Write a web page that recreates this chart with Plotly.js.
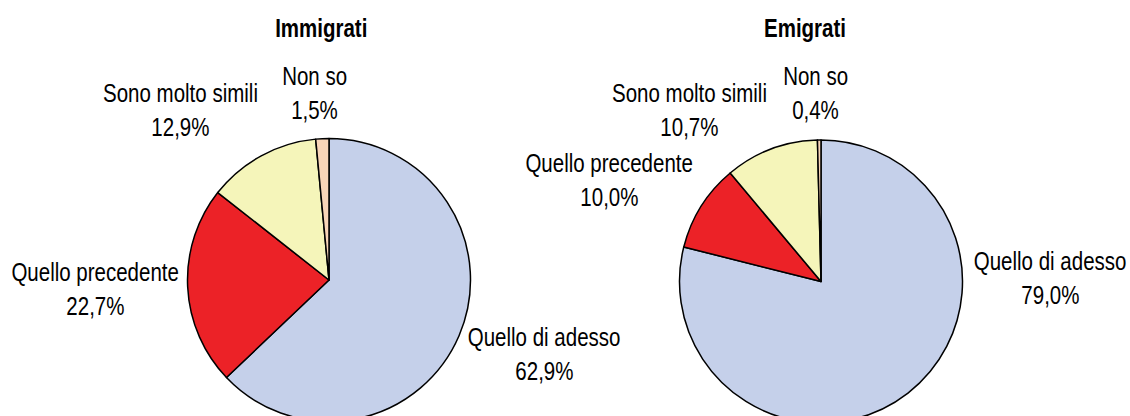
<!DOCTYPE html>
<html>
<head>
<meta charset="utf-8">
<script src="https://cdn.plot.ly/plotly-3.0.1.min.js"></script>
<style>
html,body{margin:0;padding:0;overflow:hidden;background:#fff;}
#chart{width:1130px;height:424px;}
</style>
</head>
<body>
<div id="chart"></div>
<script>
// Data
const categories = ["Quello di adesso", "Quello precedente", "Sono molto simili", "Non so"];
const immigrati = [62.9, 22.7, 12.9, 1.5];
const emigrati = [79.0, 10.0, 10.7, 0.4];
const groupTitles = ["Immigrati", "Emigrati"];
const sliceColors = ["#C5D0EA", "#EC2227", "#F5F5BA", "#F8D5B8"];

// Layout constants
const W = 1130, H = 424;
const R = 141.5;
const centers = [[329, 280], [821, 281.5]];
const titleX = [321, 805];
// label positions (pixel centres) for each category, per pie
const labelPos = [
  [[544, 337], [95, 272], [180, 93], [314, 76]],
  [[1050, 261], [609, 163], [689, 93], [815, 76]]
];
const lineGap = 34;
const FONT = "'Liberation Sans', Arial, sans-serif";
const NARROW = 0.82; // emulate a narrow font face

function fmt(v){ return v.toFixed(1).replace('.', ',') + '%'; }

const series = [immigrati, emigrati];
const traces = series.map((vals, i) => {
  const [cx, cy] = centers[i];
  return {
    type: 'pie',
    values: vals,
    labels: categories,
    sort: false,
    direction: 'clockwise',
    rotation: 0,
    textinfo: 'none',
    hoverinfo: 'label+percent',
    marker: {colors: sliceColors, line: {color: '#000', width: 1.5}},
    domain: {x: [(cx - R) / W, (cx + R) / W], y: [(H - cy - R) / H, (H - cy + R) / H]},
    showlegend: false
  };
});

const annotations = [];
groupTitles.forEach((t, i) => {
  annotations.push({
    text: '<b>' + t + '</b>', x: titleX[i] / W, y: 1 - 28 / H,
    xref: 'paper', yref: 'paper', xanchor: 'center', yanchor: 'middle',
    showarrow: false, font: {family: FONT, size: 25, color: '#000'}
  });
});
series.forEach((vals, i) => {
  categories.forEach((c, j) => {
    const [px, py] = labelPos[i][j];
    annotations.push({
      text: c, x: px / W, y: 1 - py / H, xref: 'paper', yref: 'paper',
      xanchor: 'center', yanchor: 'middle', showarrow: false,
      font: {family: FONT, size: 25, color: '#000'}
    });
    annotations.push({
      text: fmt(vals[j]), x: px / W, y: 1 - (py + lineGap) / H, xref: 'paper', yref: 'paper',
      xanchor: 'center', yanchor: 'middle', showarrow: false,
      font: {family: FONT, size: 25, color: '#000'}
    });
  });
});

Plotly.newPlot('chart', traces, {
  width: W, height: H,
  margin: {l: 0, r: 0, t: 0, b: 0},
  paper_bgcolor: '#fff',
  annotations: annotations
}, {displayModeBar: false, staticPlot: true}).then(gd => {
  gd.querySelectorAll('text.annotation-text').forEach(t => {
    const b = t.getBBox();
    const cx = b.x + b.width / 2;
    const prev = t.getAttribute('transform') || '';
    t.setAttribute('transform', prev + ` translate(${cx},0) scale(${NARROW},1) translate(${-cx},0)`);
  });
});
</script>
</body>
</html>
